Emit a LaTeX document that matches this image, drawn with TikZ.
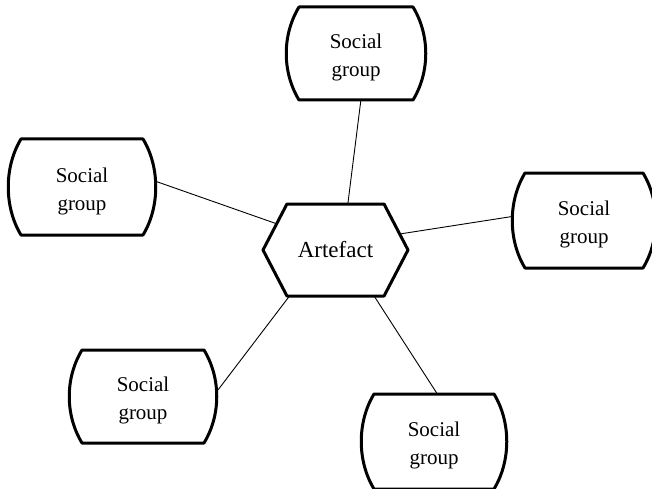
\documentclass[tikz,border=0pt]{standalone}
\usepackage{fontspec}
\setmainfont{Liberation Serif}
\usetikzlibrary{calc,shapes.symbols}
\tikzset{
  sg/.style={rectangle, inner sep=0pt, outer sep=0pt, minimum height=#1, align=center,
    font=\fontsize{21}{28}\selectfont},
  sgline/.style={line width=3pt, line join=round},
  hexa/.style={signal, signal to=west and east, signal pointer angle=125,
    draw, line width=3pt, line join=round, inner sep=0pt, outer sep=0pt,
    minimum width=145pt, minimum height=92pt, font=\fontsize{23}{28}\selectfont},
  link/.style={line width=0.9pt}
}
\newcommand\sgtext{\raisebox{-9pt}[0pt][0pt]{\begin{tabular}{@{}c@{}}Social\\group\end{tabular}}}
\newcommand\sgoutline[1]{%
  \draw[sgline] ($(#1.north west)+(14,0)$) -- ($(#1.north east)+(-14,0)$)
    .. controls ($(#1.north east)+(3,-28)$) and ($(#1.south east)+(3,28)$) .. ($(#1.south east)+(-14,0)$)
    -- ($(#1.south west)+(14,0)$)
    .. controls ($(#1.south west)+(-3,28)$) and ($(#1.north west)+(-3,-28)$) .. cycle;}
\begin{document}
\begin{tikzpicture}[x=1pt,y=1pt]
\useasboundingbox (0,0) rectangle (652,488);
\node[hexa] (h) at (335.5,238) {Artefact};
\node[sg=93pt, minimum width=142pt] (t) at (356,434.5) {\sgtext};
\node[sg=96pt, minimum width=150pt] (l) at (82,301) {\sgtext};
\node[sg=95pt, minimum width=146pt] (r) at (584,267.5) {\sgtext};
\node[sg=93pt, minimum width=150pt] (bl) at (143,91.5) {\sgtext};
\node[sg=95pt, minimum width=148pt] (br) at (434,46.5) {\sgtext};
\sgoutline{t}
\sgoutline{l}
\sgoutline{r}
\sgoutline{bl}
\sgoutline{br}
\draw[link] (t.-84) -- (h.75);
\draw[link] (l.4) -- (h.156);
\draw[link] (r.177) -- (h.14);
\draw[link] (bl.5) -- (h.225);
\draw[link] (br.86.5) -- (h.-50.5);
\end{tikzpicture}
\end{document}
